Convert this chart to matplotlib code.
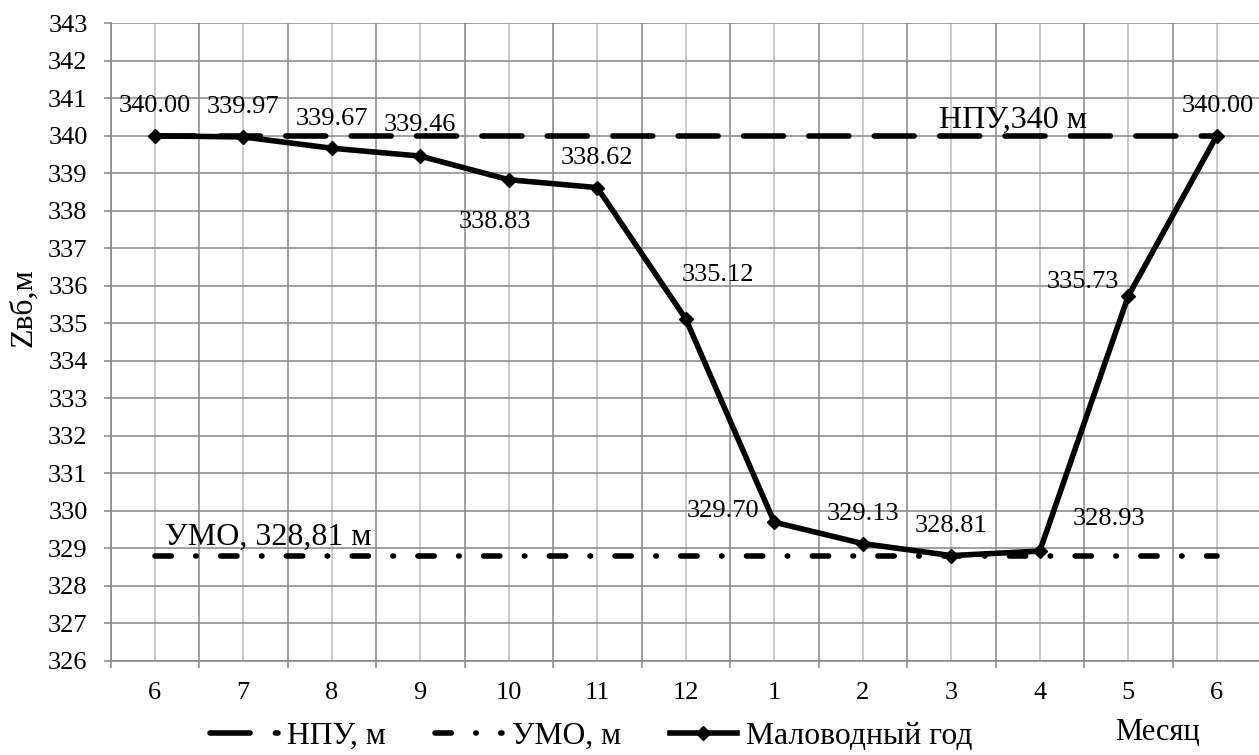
import numpy as np
import matplotlib
matplotlib.use("Agg")
import matplotlib.pyplot as plt
from matplotlib.lines import Line2D

plt.rcParams['font.family'] = ['Liberation Serif', 'DejaVu Serif']

# --- data ---------------------------------------------------------------
months = ['6', '7', '8', '9', '10', '11', '12', '1', '2', '3', '4', '5', '6']
levels = [340.00, 339.97, 339.67, 339.46, 338.83, 338.62, 335.12,
          329.70, 329.13, 328.81, 328.93, 335.73, 340.00]
npu_level = 340.0
umo_level = 328.81
series_names = ['НПУ, м', 'УМО, м', 'Маловодный год']
y_ticks = list(range(326, 344))

# label offsets (points) for each value label, relative to its marker
label_offsets = [(0, 17), (0, 17), (0, 17), (0, 18), (-10, -35), (0, 17),
                 (23, 27), (-37, 4), (0, 17), (0, 17), (50, 19), (-33, 6),
                 (1, 17)]

W, H = 1259, 755
fig = plt.figure(figsize=(W / 100, H / 100), dpi=100)
ax = fig.add_axes([110.5 / W, (H - 661) / H, 1150.5 / W, (661 - 23.3) / H])

x = np.arange(len(months))
ax.set_xlim(-0.5, len(months) - 0.5)
ax.set_ylim(326, 343)

dark = '#868686'
light = '#bdbdbd'

ax.set_xticks(x)
ax.set_xticklabels(months)
ax.set_xticks(np.arange(-0.5, len(months), 1.0), minor=True)
ax.set_yticks(y_ticks)

ax.tick_params(axis='x', which='major', length=0, pad=15, labelsize=19)
ax.tick_params(axis='x', which='minor', length=5, width=1.1, color=dark, direction='out')
ax.tick_params(axis='y', which='major', length=5, width=1.1, color=dark, direction='out',
               pad=11.5, labelsize=19)

ax.grid(axis='x', which='minor', color=dark, lw=1.1)
ax.grid(axis='x', which='major', color=light, lw=1.1)
ax.grid(axis='y', which='major', color=dark, lw=1.1)
ax.set_axisbelow(True)

for side in ('top', 'right'):
    ax.spines[side].set_visible(False)
for side in ('left', 'bottom'):
    ax.spines[side].set_color(dark)
    ax.spines[side].set_linewidth(1.1)

lw = 4.0
npu_style = (0, (7.2, 4.57))
umo_style = (0, (2.93, 4.4, 0.1, 4.4))

ax.plot(x, [npu_level] * len(x), color='black', lw=lw, linestyle=npu_style,
        dash_capstyle='round', zorder=3)
ax.plot(x, [umo_level] * len(x), color='black', lw=lw, linestyle=umo_style,
        dash_capstyle='round', zorder=3)
ax.plot(x, levels, color='black', lw=lw, marker='D', ms=7, mew=1,
        solid_joinstyle='round', zorder=4)

for xi, v, (dx, dy) in zip(x, levels, label_offsets):
    ax.annotate(f'{v:.2f}', (xi, v), xytext=(dx, dy), textcoords='offset points',
                ha='center', va='baseline', fontsize=19, zorder=5)

ax.text(8.86, 340.21, 'НПУ,340 м', fontsize=23, ha='left', va='baseline', zorder=5)
ax.text(0.116, 329.09, 'УМО, 328,81 м', fontsize=23, ha='left', va='baseline', zorder=5)

fig.text(24 / W, 1 - 308 / H, 'Zвб,м', rotation=90, ha='center', va='center', fontsize=23)
fig.text(1158 / W, 1 - 740 / H, 'Месяц', ha='center', va='baseline', fontsize=22)

handles = [
    Line2D([], [], color='black', lw=lw, linestyle=npu_style, dash_capstyle='round'),
    Line2D([], [], color='black', lw=lw, linestyle=umo_style, dash_capstyle='round'),
    Line2D([], [], color='black', lw=lw, marker='D', ms=7, mew=1),
]
fig.legend(handles, series_names, loc='center left',
           bbox_to_anchor=(210.5 / W, 1 - 736 / H), bbox_transform=fig.transFigure,
           ncol=3, frameon=False, fontsize=22.8, handlelength=2.12, handletextpad=0.3,
           columnspacing=1.55, borderpad=0, borderaxespad=0)

fig.savefig('out.png', dpi=100)
